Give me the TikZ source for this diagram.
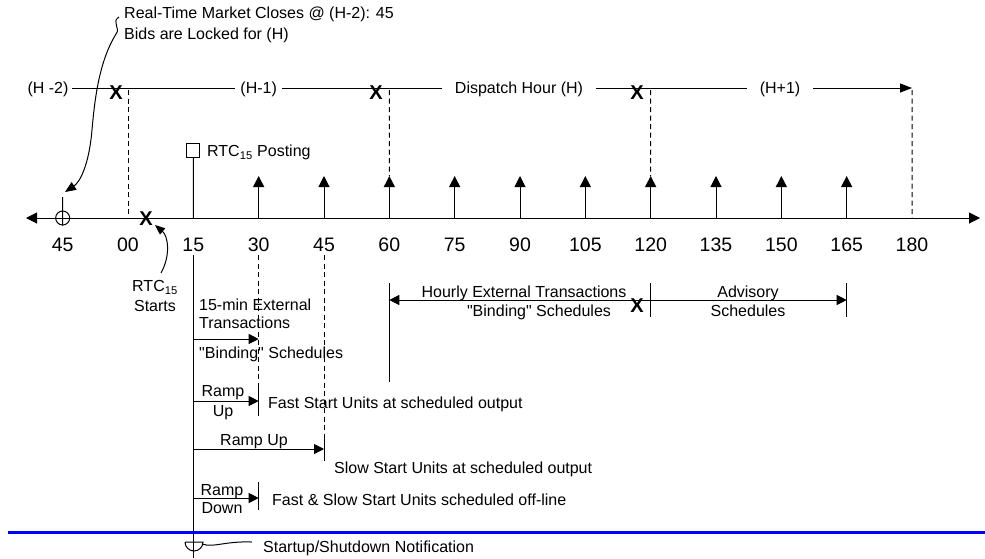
\documentclass[tikz,border=0pt]{standalone}
\usepackage{fontspec}
\setmainfont{Liberation Sans}
\newfontfamily\plainq{Liberation Sans}
\newcommand{\qq}{{\plainq\char34}}
\usetikzlibrary{arrows.meta}
\begin{document}
\begin{tikzpicture}[x=1pt,y=-1pt,
  lbl/.style={font=\fontsize{16}{19}\selectfont, inner sep=0pt, text height=11.5pt, text depth=0pt},
  num/.style={font=\fontsize{19.5}{22}\selectfont, inner sep=0pt, text height=14pt, text depth=0pt},
  bx/.style={font=\fontsize{20}{22}\selectfont\bfseries, inner sep=0pt, text height=14.3pt, text depth=0pt},
  ln/.style={line width=1pt},
  dsh/.style={line width=1pt, dash pattern=on 5pt off 3.5pt},
  tip/.style={-{Triangle[length=10pt,width=10pt]}},
  hl/.style={lbl, fill=white, inner xsep=6pt}
]
\useasboundingbox (0,0) rectangle (985,558);

% ---- top label and its pointer
\node[lbl, anchor=west] (rt1) at (124,12.3) {Real-Time Market Closes @ (H-2): 45};
\node[lbl, anchor=west] (rt2) at (124,33.3) {Bids are Locked for (H)};
\coordinate (rtp) at (119,17);

% ---- hour line
\node[lbl] (hm2) at (48,88) {(H -2)};
\coordinate (hL) at (72,88);
\coordinate (hR) at (912,88);
\draw[ln, -{Triangle[length=12pt,width=9pt]}] (hL) -- (hR);
\node[lbl, fill=white, inner xsep=5pt] (hm1) at (258.7,88) {(H-1)};
\node[lbl, fill=white, inner xsep=13pt] (hh) at (519,88) {Dispatch Hour (H)};
\node[lbl, fill=white, inner xsep=13pt] (hp1) at (780,88) {(H+1)};
\node[bx] (x1) at (116,92) {X};
\node[bx] (x2) at (376,92.5) {X};
\node[bx] (x3) at (637,92.5) {X};

% ---- axis
\coordinate (axL) at (26,218);
\coordinate (axR) at (980,218);
\draw[ln, {Triangle[length=11pt,width=11pt]}-{Triangle[length=11pt,width=11pt]}] (axL) -- (axR);
\foreach \t in {-15,0,15,30,45,60,75,90,105,120,135,150,165,180}{
  \coordinate (t\t) at ({128+\t*4.35556},218);
}
\foreach \t in {30,45,60,75,90,105,120,135,150,165}{
  \coordinate (u\t) at ({128+\t*4.35556},176);
  \draw[ln, -{Triangle[length=11pt,width=11pt]}] (t\t) -- (u\t);
}
\foreach \t/\s in {-15/45,0/00,15/15,30/30,45/45,60/60,75/75,90/90,105/105,120/120,135/135,150/150,165/165,180/180}{
  \node[num] (n\t) at ({128+\t*4.35556},244) {\s};
}

% dashed verticals above axis
\coordinate (d0) at (128,90);
\coordinate (d60) at (389.3,90);
\coordinate (d120) at (650.7,90);
\coordinate (d180) at (912,90);
\draw[dsh] (d0) -- (t0);
\draw[dsh] (d60) -- (u60);
\draw[dsh] (d120) -- (u120);
\draw[dsh] (d180) -- (t180);

% market close circle
\node[circle, draw, ln, minimum size=14pt, inner sep=0pt] (c45) at (t-15) {};
\coordinate (c45top) at (62.7,197);
\draw[ln] (c45top) -- (c45.south);
\draw[ln, -{Triangle[length=11pt,width=9pt]}] (rtp) .. controls (111,22) and (121,28) .. (116,34)
   .. controls (100,60) and (95,95) .. (92,130)
   .. controls (89,165) and (80,182) .. (65,192);

% RTC posting
\coordinate (p15) at (193.3,158);
\draw[ln] (t15) -- (p15);
\node[draw, ln, minimum width=13pt, minimum height=14pt, inner sep=0pt, anchor=south] (box) at (p15) {};
\node[lbl, anchor=west] (post) at (207,151) {RTC\textsubscript{15} Posting};

% RTC starts
\node[bx] (x0) at (146,218.5) {X};
\node[lbl] (rtcs1) at (155,286) {RTC\textsubscript{15}};
\node[lbl] (rtcs2) at (155,306) {Starts};
\coordinate (rs0) at (161,273);
\coordinate (rs1) at (155,225);
\draw[ln, -{Triangle[length=10pt,width=8pt]}] (rs0) .. controls (171,255) and (168,236) .. (rs1);

% below-axis verticals
\coordinate (v15a) at (193.3,255);
\coordinate (v15b) at (193.3,558);
\coordinate (v30a) at (258.7,255);
\coordinate (v30b) at (258.7,388);
\coordinate (v45a) at (324,255);
\coordinate (v45b) at (324,435);
\draw[dsh] (v30a) -- (v30b);
\draw[dsh] (v45a) -- (v45b);

% 15-min external transactions
\node[lbl, anchor=west] (e1) at (199,305) {15-min External};
\node[lbl, anchor=west] (e2) at (199,323) {Transactions};
\node[lbl, anchor=west] (e3) at (199,353) {\qq Binding\qq{} Schedules};
\coordinate (a1s) at (193.3,339);
\coordinate (a1e) at (258.7,339);
\draw[ln, tip] (a1s) -- (a1e);

% Hourly external
\coordinate (hb1a) at (389.3,283);
\coordinate (hb1b) at (389.3,382);
\coordinate (hb2a) at (650.7,283);
\coordinate (hb2b) at (650.7,317);
\coordinate (hb3a) at (846.7,283);
\coordinate (hb3b) at (846.7,317);
\draw[ln] (hb1a) -- (hb1b);
\draw[ln] (hb2a) -- (hb2b);
\draw[ln] (hb3a) -- (hb3b);
\coordinate (ha1) at (389.3,300);
\coordinate (ha2) at (846.7,300);
\draw[ln, {Triangle[length=10pt,width=10pt]}-{Triangle[length=10pt,width=10pt]}] (ha1) -- (ha2);
\node[lbl] (ht1) at (524,292) {Hourly External Transactions};
\node[lbl] (ht2) at (539,311) {\qq Binding\qq{} Schedules};
\node[bx] (x4) at (637,305) {X};
\node[lbl] (ad1) at (748,292) {Advisory};
\node[lbl] (ad2) at (748,311) {Schedules};

% Ramp up fast
\coordinate (r1s) at (193.3,401);
\coordinate (r1e) at (258.7,401);
\coordinate (r1b) at (258.7,416);
\draw[ln, tip] (r1s) -- (r1e);
\draw[ln] (v30b) -- (r1b);
\node[lbl] (rf1) at (223,391) {Ramp};
\node[lbl] (rf2) at (223,411) {Up};
\node[lbl, anchor=west] (rf3) at (268,403) {Fast Start Units at scheduled output};

% Ramp up slow
\coordinate (r2s) at (193.3,449);
\coordinate (r2e) at (324,449);
\coordinate (r2b) at (324,461);
\draw[ln, tip] (r2s) -- (r2e);
\draw[ln] (v45b) -- (r2b);
\node[lbl] (rs1t) at (254,440) {Ramp Up};
\node[lbl, anchor=west] (rs2t) at (334,468) {Slow Start Units at scheduled output};

% Ramp down
\coordinate (r3s) at (193.3,498);
\coordinate (r3e) at (258.7,498);
\coordinate (r3a) at (258.7,482);
\coordinate (r3b) at (258.7,510);
\draw[ln, tip] (r3s) -- (r3e);
\draw[ln] (r3a) -- (r3b);
\node[lbl] (rd1) at (222,490) {Ramp};
\node[lbl] (rd2) at (222,508) {Down};
\node[lbl, anchor=west] (rd3) at (272,500) {Fast \& Slow Start Units scheduled off-line};

% blue line
\coordinate (bl) at (8,532);
\coordinate (br) at (985,532);
\draw[line width=3pt, color={rgb,255:red,0;green,0;blue,255}] (bl) -- (br);

% vertical at 15 below axis
\draw[ln] (v15a) -- (v15b);

% startup/shutdown symbol
\coordinate (s1) at (185,542);
\coordinate (s2) at (203,542);
\coordinate (s3) at (252,542);
\draw[ln] (s1) -- (s2) arc[start angle=0, end angle=180, radius=9];
\draw[ln] (202,544) .. controls (214,548) and (224,541) .. (s3);
\node[lbl, anchor=west] (sn) at (263,547) {Startup/Shutdown Notification};
\end{tikzpicture}
\end{document}
